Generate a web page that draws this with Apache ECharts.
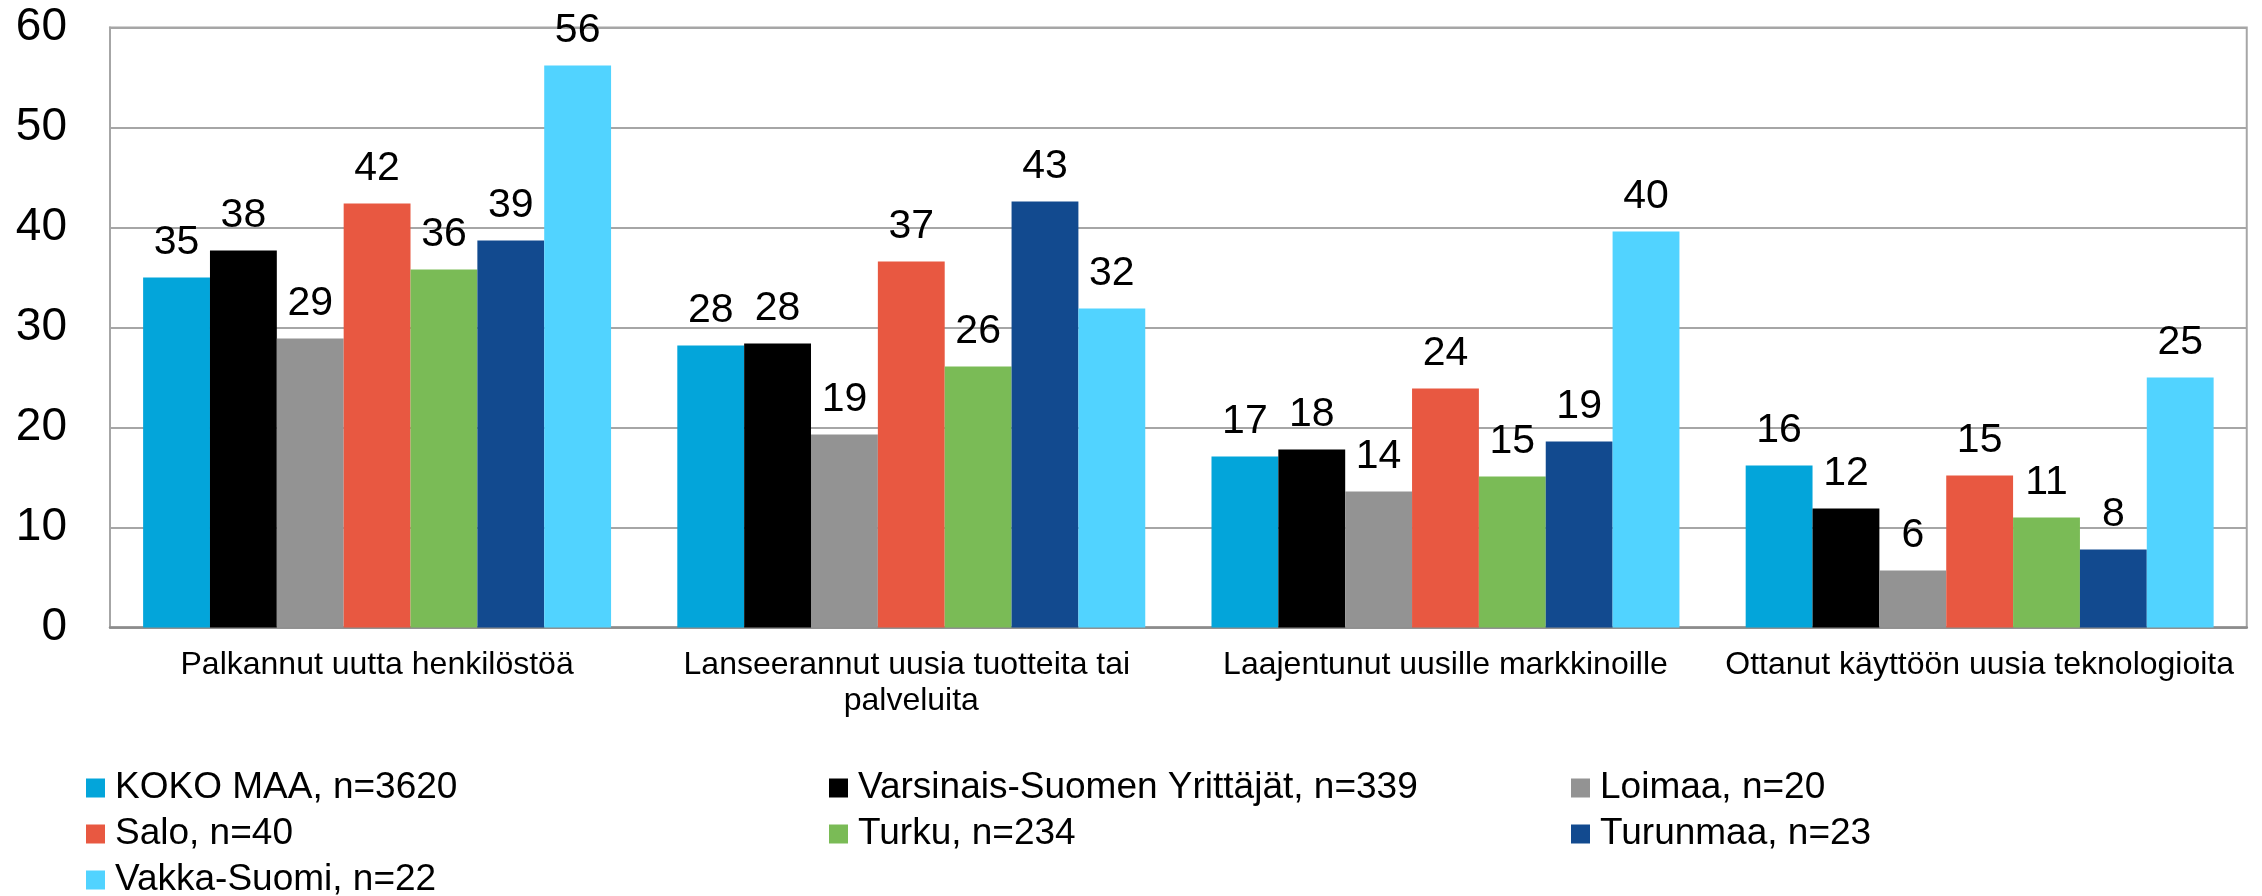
<!DOCTYPE html>
<html>
<head>
<meta charset="utf-8">
<script src="https://cdn.jsdelivr.net/npm/echarts@6/dist/echarts.min.js"></script>
<style>
html,body{margin:0;padding:0;background:#fff;}
#chart{width:2262px;height:896px;}
</style>
</head>
<body>
<div id="chart"></div>
<script>
var categories = [
  'Palkannut uutta henkilöstöä',
  'Lanseerannut uusia tuotteita tai palveluita',
  'Laajentunut uusille markkinoille',
  'Ottanut käyttöön uusia teknologioita'
];
var seriesNames = [
  'KOKO MAA, n=3620',
  'Varsinais-Suomen Yrittäjät, n=339',
  'Loimaa, n=20',
  'Salo, n=40',
  'Turku, n=234',
  'Turunmaa, n=23',
  'Vakka-Suomi, n=22'
];
var kokoMaa     = [35.0, 28.2, 17.1, 16.2];
var varsinais   = [37.7, 28.4, 17.8, 11.9];
var loimaa      = [28.9, 19.3, 13.6, 5.7];
var salo        = [42.4, 36.6, 23.9, 15.2];
var turku       = [35.8, 26.1, 15.1, 11.0];
var turunmaa    = [38.7, 42.6, 18.6, 7.8];
var vakkaSuomi  = [56.2, 31.9, 39.6, 25.0];
var yTicks = [0, 10, 20, 30, 40, 50, 60];

var colors = ['#03A5DA', '#000000', '#939393', '#E85841', '#7ABB56', '#124A8F', '#51D3FF'];
var values = [kokoMaa, varsinais, loimaa, salo, turku, turunmaa, vakkaSuomi];
var FONT = "Arial, 'Liberation Sans', sans-serif";

var series = seriesNames.map(function (name, i) {
  return {
    name: name,
    type: 'bar',
    data: values[i],
    barGap: '0%',
    barCategoryGap: '12.4%',
    itemStyle: { color: colors[i] },
    label: {
      show: true,
      position: 'top',
      distance: 14,
      fontSize: 41,
      fontFamily: FONT,
      color: '#000',
      formatter: function (p) { return Math.round(p.value); }
    },
    emphasis: { disabled: true }
  };
});

function makeLegend(names, left) {
  return {
    orient: 'vertical',
    left: left,
    top: 769.5,
    height: 160,
    padding: 0,
    itemGap: 9,
    itemWidth: 19,
    itemHeight: 19,
    icon: 'rect',
    selectedMode: false,
    data: names,
    textStyle: {
      fontSize: 37,
      lineHeight: 37,
      fontFamily: FONT,
      color: '#000',
      padding: [0, 0, 0, 5]
    }
  };
}

var chart = echarts.init(document.getElementById('chart'), null, { renderer: 'canvas' });
chart.setOption({
  animation: false,
  backgroundColor: '#fff',
  color: colors,
  grid: {
    left: 110, right: 10, top: 27.5, bottom: 268.5,
    show: true, borderColor: '#A6A6A6', borderWidth: 2, backgroundColor: 'transparent'
  },
  legend: [
    makeLegend([seriesNames[0], seriesNames[3], seriesNames[6]], 86),
    makeLegend([seriesNames[1], seriesNames[4]], 829),
    makeLegend([seriesNames[2], seriesNames[5]], 1571)
  ],
  xAxis: {
    type: 'category',
    data: categories,
    axisTick: { show: false },
    axisLine: { lineStyle: { color: '#8C8C8C', width: 2.5 } },
    axisLabel: {
      interval: 0,
      margin: 20,
      fontSize: 32,
      lineHeight: 36,
      fontFamily: FONT,
      color: '#000',
      width: 560,
      overflow: 'break'
    }
  },
  yAxis: {
    type: 'value',
    min: yTicks[0],
    max: yTicks[yTicks.length - 1],
    interval: yTicks[1] - yTicks[0],
    axisLine: { show: true, lineStyle: { color: '#A6A6A6', width: 2 } },
    axisTick: { show: false },
    splitLine: { lineStyle: { color: '#A6A6A6', width: 2 } },
    axisLabel: {
      margin: 43,
      fontSize: 46,
      fontFamily: FONT,
      color: '#000'
    }
  },
  series: series
});
</script>
</body>
</html>
